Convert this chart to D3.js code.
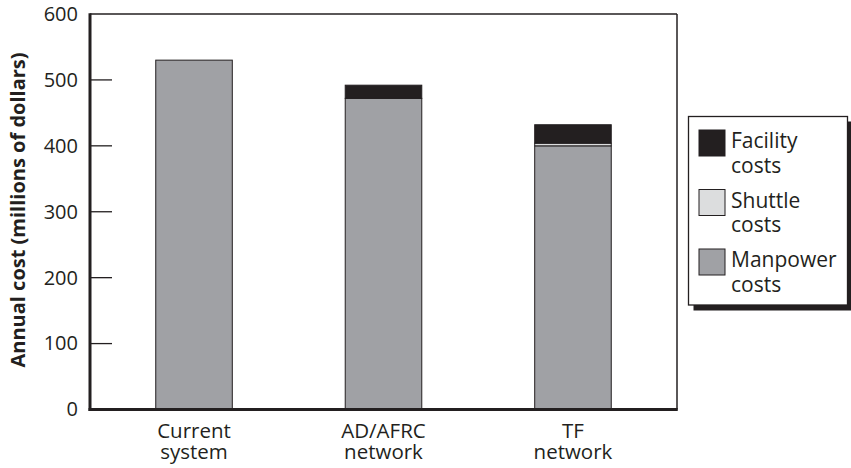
<!DOCTYPE html>
<html>
<head>
<meta charset="utf-8">
<script src="https://cdn.jsdelivr.net/npm/d3@7"></script>
<style>
  html, body { margin: 0; padding: 0; background: #fff; }
  svg text { font-family: "Open Sans", "Noto Sans", sans-serif; fill: #231f20; }
</style>
</head>
<body>
<svg id="chart" width="851" height="468"></svg>
<script>
const categories = [["Current", "system"], ["AD/AFRC", "network"], ["TF", "network"]];
const categoryKeys = ["Current system", "AD/AFRC network", "TF network"];
const manpower = [530, 472, 400];
const shuttle = [0, 0, 4];
const facility = [0, 20, 28];
const seriesNames = [["Facility", "costs"], ["Shuttle", "costs"], ["Manpower", "costs"]];
const seriesColors = ["#231f20", "#dcddde", "#a0a1a5"];
const yTicks = [0, 100, 200, 300, 400, 500, 600];

const svg = d3.select("#chart");
const L = 90, R = 677, T = 14, B = 409.5;
const ink = "#231f20";

const x = d3.scaleBand().domain(categoryKeys).range([L, R]).paddingInner(0.596).paddingOuter(0.347);
const y = d3.scaleLinear().domain([0, 600]).range([B, T]);

const rows = categoryKeys.map((k, i) => ({ key: k, manpower: manpower[i], shuttle: shuttle[i], facility: facility[i] }));
const stack = d3.stack().keys(["manpower", "shuttle", "facility"])(rows);
const colorOf = { manpower: seriesColors[2], shuttle: seriesColors[1], facility: seriesColors[0] };

// frame (top and right thin)
svg.append("line").attr("x1", L).attr("x2", R).attr("y1", T).attr("y2", T).attr("stroke", ink).attr("stroke-width", 1.5);
svg.append("line").attr("x1", R).attr("x2", R).attr("y1", T).attr("y2", B).attr("stroke", ink).attr("stroke-width", 1.5);

// y axis labels
const yAxis = d3.axisLeft(y).tickValues(yTicks).tickSize(0).tickPadding(12);
const gy = svg.append("g").attr("transform", `translate(${L},0)`).call(yAxis);
gy.select(".domain").remove();
gy.selectAll("text").style("font-size", "20px").attr("fill", ink);
// inward tick marks
svg.append("g").selectAll("line").data(yTicks.filter(v => v > 0 && v < 600)).join("line")
  .attr("x1", L).attr("x2", L + 22).attr("y1", d => y(d)).attr("y2", d => y(d))
  .attr("stroke", ink).attr("stroke-width", 1.3);

// bars
svg.append("g").selectAll("g").data(stack).join("g")
  .attr("fill", d => colorOf[d.key])
  .selectAll("rect").data(d => d.filter(s => s[1] - s[0] > 0)).join("rect")
  .attr("x", d => x(d.data.key))
  .attr("width", x.bandwidth())
  .attr("y", d => y(d[1]))
  .attr("height", d => y(d[0]) - y(d[1]))
  .attr("stroke", ink).attr("stroke-width", 1);

// thick axes
svg.append("line").attr("x1", L).attr("x2", L).attr("y1", T - 0.75).attr("y2", B + 1.5).attr("stroke", ink).attr("stroke-width", 3);
svg.append("line").attr("x1", L - 1.5).attr("x2", R + 0.75).attr("y1", B).attr("y2", B).attr("stroke", ink).attr("stroke-width", 3);

// x labels (two lines, separate text elements)
[0, 1].forEach(j => {
  svg.append("g").selectAll("text").data(categoryKeys).join("text")
    .attr("x", d => x(d) + x.bandwidth() / 2)
    .attr("y", 438 + j * 21)
    .attr("text-anchor", "middle")
    .style("font-size", "20.5px")
    .text((d, i) => categories[i][j]);
});

// y title
svg.append("text")
  .attr("transform", "translate(25,210) rotate(-90)")
  .attr("text-anchor", "middle")
  .style("font-size", "20px").style("font-weight", "bold")
  .text("Annual cost (millions of dollars)");

// legend
const lg = svg.append("g");
lg.append("rect").attr("x", 693.5).attr("y", 121.5).attr("width", 160).attr("height", 189).attr("fill", ink);
lg.append("rect").attr("x", 688.5).attr("y", 116.5).attr("width", 159).attr("height", 188.5)
  .attr("fill", "#fff").attr("stroke", ink).attr("stroke-width", 1.3);
const items = lg.selectAll("g.item").data(seriesNames).join("g").attr("class", "item")
  .attr("transform", (d, i) => `translate(699,${130 + i * 59.5})`);
items.append("rect").attr("width", 26).attr("height", 26)
  .attr("fill", (d, i) => seriesColors[i]).attr("stroke", ink).attr("stroke-width", 1);
[0, 1].forEach(j => {
  items.append("text").attr("x", 32).attr("y", 18.3 + j * 24.5)
    .style("font-size", "21px").text(d => d[j]);
});
</script>
</body>
</html>
